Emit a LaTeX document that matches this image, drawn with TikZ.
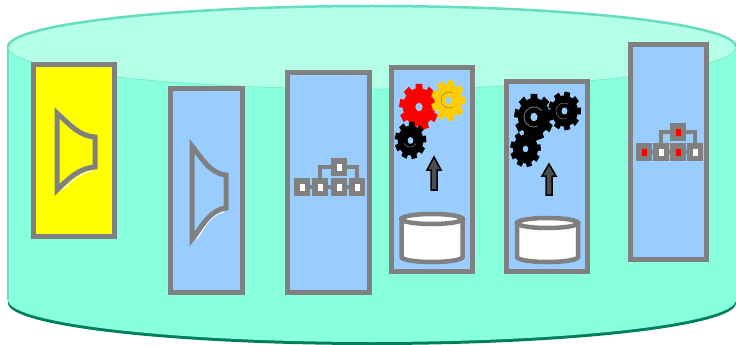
\documentclass[tikz,border=0pt]{standalone}
\usepackage{xcolor}
\usepackage{tikz}
\definecolor{tankside}{HTML}{88FFDD}
\definecolor{tanktop}{HTML}{B3FFE8}
\definecolor{tankedge}{HTML}{66DDBF}
\definecolor{tankdark}{HTML}{007F5F}
\definecolor{panelblue}{HTML}{99CCFF}
\definecolor{panelyellow}{HTML}{FFFF00}
\definecolor{framegray}{HTML}{808080}
\definecolor{gearred}{HTML}{FF0000}
\definecolor{gearyellow}{HTML}{FFCC00}
\definecolor{arrowfill}{HTML}{4D4D4D}

% one toothed wheel: #1 colour, #2 centre, #3 radius, #4 turn
\newcommand{\gearwheel}[4]{
  \begin{scope}[shift={#2}, yscale=1.18, rotate=#4]
    \fill[#1]
      \foreach \ang in {0,40,...,320} {
        (\ang-13:#3*0.78) -- (\ang-10:#3) -- (\ang+10:#3) -- (\ang+13:#3*0.78) -- (0:0) -- cycle
      };
    \fill[#1] (0,0) circle[radius=#3*0.8];
    \fill[panelblue] (0,0) circle[radius=#3*0.18];
  \end{scope}
}

% one drum: #1 centre x, #2 top y, #3 bottom y
\newcommand{\storedrum}[3]{
  \draw[store] (#1-30.5,#2+5) -- (#1-30.5,#3-5) arc[x radius=30.5, y radius=5, start angle=180, end angle=0] -- (#1+30.5,#2+5) -- cycle;
  \draw[store] (#1,#2+5) ellipse[x radius=30.5, y radius=5];
}

\begin{document}
\begin{tikzpicture}[
  x=1pt, y=-1pt,
  panel/.style={
    rectangle, draw=framegray, line width=5pt, inner sep=0pt, outer sep=0pt, anchor=north west
  },
  treecell/.style={
    rectangle, draw=framegray, line width=5.5pt, fill=white, inner sep=0pt,
    minimum width=10.5pt, minimum height=12.5pt
  },
  treeredcell/.style={treecell, fill=gearred},
  treelink/.style={draw=framegray, line width=4.5pt},
  horn/.style={draw=framegray, line width=5pt, line join=miter},
  store/.style={draw=framegray, line width=4.5pt, fill=white},
  uparrow/.style={draw=black, line width=1.5pt, fill=arrowfill, line join=miter},
]
\useasboundingbox (0,0) rectangle (736,345);

% tank
\fill[tankdark] (8,303) arc[x radius=364, y radius=42, start angle=180, end angle=0] -- (736,300) -- (8,300) -- cycle;
\fill[tankside] (8,47) -- (8,300) arc[x radius=364, y radius=42, start angle=180, end angle=0] -- (736,47) -- cycle;
\draw[tankedge, line width=1.5pt] (8,47) -- (8,300);
\fill[tanktop] (372,47) ellipse[x radius=364, y radius=42];
\draw[tankedge, line width=2.5pt] (8,47) arc[x radius=364, y radius=41, start angle=180, end angle=360];
\draw[tankedge, line width=.4pt] (8,47) arc[x radius=364, y radius=42, start angle=180, end angle=0];

% panels
\node[panel, fill=panelyellow, minimum width=81pt, minimum height=172pt] (horn one)  at (33,64.5)  {};
\node[panel, fill=panelblue, minimum width=72pt, minimum height=204pt] (horn two)  at (170,88)   {};
\node[panel, fill=panelblue, minimum width=82pt, minimum height=219pt] (tree one)  at (287,73)   {};
\node[panel, fill=panelblue, minimum width=81pt, minimum height=204pt] (gears one) at (391.5,67.5) {};
\node[panel, fill=panelblue, minimum width=81pt, minimum height=190pt] (gears two) at (506.5,81) {};
\node[panel, fill=panelblue, minimum width=76pt, minimum height=214pt] (tree two)  at (630.5,45) {};

% horns
\draw[white, line width=1pt] (62,190) .. controls (74,179) and (82,172) .. (93,171);
\draw[horn] (57,113) .. controls (72,127) and (80,136) .. (95,137) -- (95,167)
  .. controls (80,168) and (70,177) .. (57,190) -- cycle;
\draw[white, line width=1pt] (197,239) .. controls (205,226) and (212,214) .. (224,212);
\draw[horn] (192,146) .. controls (204,161) and (210,173) .. (226,175) -- (226,208)
  .. controls (210,210) and (203,225) .. (192,239) -- cycle;

% first tree
\node[treecell] (a top) at (339,167) {};
\node[treecell] (a1) at (302,187) {};
\node[treecell] (a2) at (320,187) {};
\node[treecell] (a3) at (339,187) {};
\node[treecell] (a4) at (357,187) {};
\draw[treelink] (a1) -- (a2);
\draw[treelink] (a2) -- (a3);
\draw[treelink] (a3) -- (a4);
\draw[treelink] (a top) -| (a2);
\draw[treelink] (a top) -| (a4);

% second tree
\node[treeredcell] (b top) at (678,132) {};
\node[treeredcell] (b1) at (644,152) {};
\node[treecell]    (b2) at (661,152) {};
\node[treeredcell] (b3) at (678,152) {};
\node[treecell]    (b4) at (695,152) {};
\draw[treelink] (b1) -- (b2);
\draw[treelink] (b2) -- (b3);
\draw[treelink] (b3) -- (b4);
\draw[treelink] (b top) -| (b2);
\draw[treelink] (b top) -| (b4);

% gears
\gearwheel{gearred}{(419,107)}{20}{10}
\gearwheel{gearyellow}{(448.5,100.5)}{17.5}{0}
\draw[framegray, line width=.5pt] (449,100) ++(60:8) arc[start angle=60, end angle=300, radius=8];
\gearwheel{black}{(410.5,140.5)}{16}{5}
\draw[framegray, line width=.5pt] (410,140) ++(30:7) arc[start angle=30, end angle=150, radius=7];
\gearwheel{black}{(534,117)}{20}{10}
\draw[framegray, line width=.8pt] (534,117) ++(70:10) arc[start angle=70, end angle=320, radius=10];
\gearwheel{black}{(564.5,111)}{16.5}{0}
\draw[framegray, line width=.5pt] (564,111) ++(70:8) arc[start angle=70, end angle=300, radius=8];
\gearwheel{black}{(525.5,149)}{15.5}{5}

% arrows
\draw[uparrow] (431,190) -- (431,170) -- (427,170) -- (434,157) -- (441,170) -- (437,170) -- (437,190) -- cycle;
\draw[uparrow] (546,195) -- (546,176) -- (542,176) -- (549,164) -- (556,176) -- (552,176) -- (552,195) -- cycle;

% stores
\storedrum{432}{214}{262}
\storedrum{547.5}{218}{262}
\end{tikzpicture}
\end{document}
